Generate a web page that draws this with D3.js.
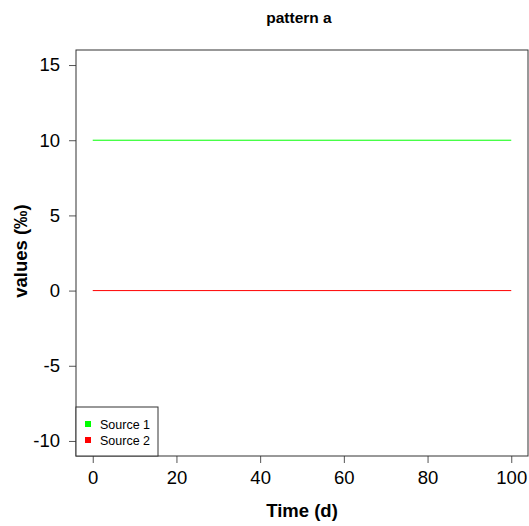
<!DOCTYPE html>
<html>
<head>
<meta charset="utf-8">
<script src="https://cdn.jsdelivr.net/npm/d3@7"></script>
<style>
  body { margin: 0; background: #fff; }
  svg { display: block; font-family: "Liberation Sans", Arial, sans-serif; }
</style>
</head>
<body>
<svg width="529" height="526"></svg>
<script>
// data
const time = [0, 100];
const source1 = [10, 10];
const source2 = [0, 0];
const seriesNames = ["Source 1", "Source 2"];
const seriesColors = ["#00ff00", "#ff0000"];
const xTicks = [0, 20, 40, 60, 80, 100];
const yTicks = [-10, -5, 0, 5, 10, 15];

const svg = d3.select("svg");
const plotL = 76, plotR = 528, plotT = 50, plotB = 456;

const x = d3.scaleLinear().domain([-4, 104]).range([plotL, plotR]);
const y = d3.scaleLinear().domain([-11, 16]).range([plotB, plotT]);

// title
svg.append("text")
    .attr("x", (plotL + plotR) / 2 - 3)
    .attr("y", 23)
    .attr("text-anchor", "middle")
    .attr("font-weight", "bold")
    .attr("font-size", 15.5)
    .text("pattern a");

// axes
const xAxis = svg.append("g")
    .attr("transform", `translate(0,${plotB})`)
    .call(d3.axisBottom(x).tickValues(xTicks).tickSize(7).tickPadding(8));
const yAxis = svg.append("g")
    .attr("transform", `translate(${plotL},0)`)
    .call(d3.axisLeft(y).tickValues(yTicks).tickSize(7).tickPadding(9)
        .tickFormat(d => d < 0 ? "-" + Math.abs(d) : d));

[xAxis, yAxis].forEach(g => {
    g.select(".domain").remove();
    g.selectAll("line").attr("stroke", "#555");
    g.selectAll("text").attr("font-size", 18.5).attr("fill", "#000")
        .attr("font-family", "Liberation Sans, Arial, sans-serif");
});

// plot box
svg.append("rect")
    .attr("x", plotL).attr("y", plotT)
    .attr("width", plotR - plotL).attr("height", plotB - plotT)
    .attr("fill", "none").attr("stroke", "#333").attr("stroke-width", 1);

// lines
const line = d3.line().x((d, i) => x(time[i])).y(d => y(d));
[source1, source2].forEach((s, i) => {
    svg.append("path")
        .datum(s)
        .attr("d", line)
        .attr("fill", "none")
        .attr("stroke", seriesColors[i])
        .attr("stroke-width", 1);
});

// axis labels
svg.append("text")
    .attr("x", 302)
    .attr("y", 517)
    .attr("text-anchor", "middle")
    .attr("font-weight", "bold")
    .attr("font-size", 18.5)
    .text("Time (d)");

svg.append("text")
    .attr("transform", `translate(26.5,251) rotate(-90)`)
    .attr("text-anchor", "middle")
    .attr("font-weight", "bold")
    .attr("font-size", 18.5)
    .text("values (‰)");

// legend
const lg = svg.append("g");
lg.append("rect")
    .attr("x", plotL).attr("y", 407)
    .attr("width", 82).attr("height", plotB - 407)
    .attr("fill", "#fff").attr("stroke", "#333");
seriesNames.forEach((name, i) => {
    const cy = 424 + i * 16;
    lg.append("rect")
        .attr("x", 85).attr("y", cy - 3)
        .attr("width", 6).attr("height", 6)
        .attr("fill", seriesColors[i]);
    lg.append("text")
        .attr("x", 100).attr("y", cy + 4.5)
        .attr("font-size", 12.5)
        .text(name);
});
</script>
</body>
</html>
